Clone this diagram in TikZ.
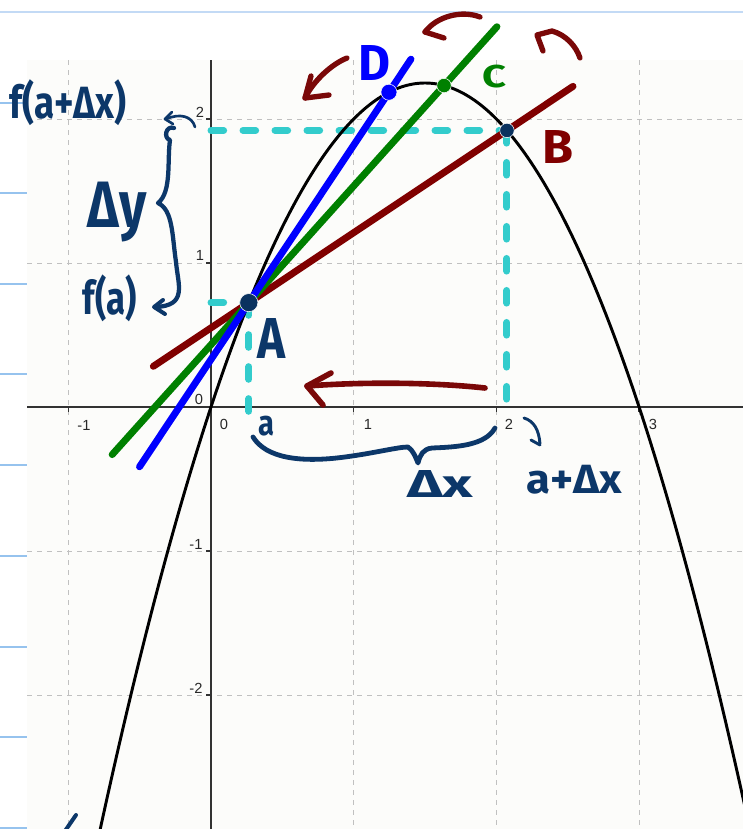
\documentclass[tikz,border=0pt]{standalone}
\usepackage{fontspec}
\usepackage{graphicx}
\setmainfont{Liberation Sans}
\newfontfamily\hwfont{Fira Sans}
\usetikzlibrary{calc}
\definecolor{navy}{RGB}{12,55,105}
\definecolor{dotnavy}{RGB}{10,50,95}
\definecolor{secred}{RGB}{128,0,0}
\definecolor{secgreen}{RGB}{0,128,0}
\definecolor{secblue}{RGB}{0,0,255}
\definecolor{darkred}{RGB}{122,8,8}
\definecolor{cyanc}{RGB}{51,204,204}
\definecolor{gridgray}{RGB}{192,192,192}
\definecolor{axisgray}{RGB}{50,50,50}
\definecolor{labgray}{RGB}{40,40,40}
\definecolor{panel}{RGB}{252,252,250}
\definecolor{topblue}{RGB}{195,218,245}
\definecolor{sideblue}{RGB}{150,195,238}
\newcommand\hwtext[3]{\resizebox*{#1}{#2}{\hwfont\bfseries #3}}
\begin{document}
\begin{tikzpicture}[x=0.75pt,y=-0.75pt,
  gridline/.style={draw=gridgray, line width=0.75pt, dash pattern=on 4pt off 3.5pt},
  axisline/.style={draw=axisgray, line width=1.1pt},
  cyandash/.style={draw=cyanc, line width=5.2pt, line cap=round, dash pattern=on 9.5pt off 14.5pt},
  secant/.style={line width=5.2pt, line cap=round},
  hwline/.style={draw=navy, line width=2.6pt, line cap=round, line join=round},
  redarrow/.style={draw=darkred, line width=4pt, line cap=round, line join=round},
  ticklabel/.style={font=\fontsize{11}{12}\selectfont, text=labgray, inner sep=0pt},
  hw/.style={inner sep=0pt, text=navy}
]
\useasboundingbox (0,0) rectangle (743,829);
\clip (0,0) rectangle (743,829);
\fill[white] (0,0) rectangle (743,829);
\fill[panel] (27,60) rectangle (743,829);
\draw[topblue, line width=1.5pt] (0,12) -- (743,12);
\foreach \yy in {103,193,284,374,465,556,647,737,828}
  \draw[sideblue, line width=0.8pt] (0,\yy) -- (27,\yy);

\begin{scope}[shift={(211,407)}, x={(107.025pt,0pt)}, y={(0pt,108pt)}]
  % grid
  \foreach \gx in {-1,1,2,3} \draw[gridline] (\gx,2.4097) -- (\gx,-3);
  \foreach \gy in {-2,-1,1,2} \draw[gridline] (-1.2894,\gy) -- (3.8,\gy);
  % axes
  \draw[axisline] (-1.2894,0) -- (3.8,0);
  \draw[axisline] (0,2.4097) -- (0,-3);
  \foreach \gx in {-1,1,2,3} \draw[axisline] (\gx,0) -- (\gx,-0.035);
  \foreach \gy in {-2,-1,1,2} \draw[axisline] (0,\gy) -- (-0.035,\gy);
  % points
  \coordinate (A) at (0.265,0.7248);
  \coordinate (B) at (2.074,1.9205);
  \coordinate (C) at (1.633,2.2323);
  \coordinate (D) at (1.247,2.186);
  \coordinate (fa) at (0,0.7248);
  \coordinate (aa) at (0.265,-0.05);
  \coordinate (fb) at (0,1.9205);
  \coordinate (bb) at (2.074,-0.05);
  % cyan dashed guides
  \draw[cyandash] (fa) -- (A);
  \draw[cyandash] (A) -- (aa);
  \draw[cyandash] (fb) -- (B);
  \draw[cyandash] (B) -- (bb);
  % parabola
  \draw[black, line width=2.2pt] plot[domain=-0.79:3.76, samples=120, smooth] (\x,{3*\x-\x*\x});
  % secant lines
  \draw[secant, draw=secred] ($(A)!-0.37!(B)$) -- ($(A)!1.256!(B)$);
  \draw[secant, draw=secgreen] ($(A)!-0.70!(C)$) -- ($(A)!1.271!(C)$);
  \draw[secant, draw=secblue] ($(A)!-0.78!(D)$) -- ($(A)!1.157!(D)$);
  % dots
  \filldraw[fill=dotnavy, draw=white, line width=0.4pt] (A) circle[radius=6.8pt];
  \filldraw[fill=dotnavy, draw=white, line width=0.4pt] (B) circle[radius=5.4pt];
  \filldraw[fill=secgreen, draw=white, line width=0.4pt] (C) circle[radius=5.4pt];
  \filldraw[fill=secblue, draw=white, line width=0.4pt] (D) circle[radius=6pt];
\end{scope}

% tick labels
\node[ticklabel] (xm1) at (84,425) {-1};
\node[ticklabel] (x0) at (224,424) {0};
\node[ticklabel] (x1) at (368,424) {1};
\node[ticklabel] (x2) at (509,424) {2};
\node[ticklabel] (x3) at (653,424) {3};
\node[ticklabel] (y0) at (199,399) {0};
\node[ticklabel] (y1) at (200,255) {1};
\node[ticklabel] (y2) at (200,112) {2};
\node[ticklabel] (ym1) at (196,544) {-1};
\node[ticklabel] (ym2) at (196,688) {-2};

% handwritten navy annotations
\draw[hwline, line width=3.2pt] (174,128) .. controls (166,125) and (163,138) .. (170,140)
  .. controls (167,160) and (172,192) .. (158,203)
  .. controls (173,210) and (172,235) .. (176,262)
  .. controls (178,285) and (188,306) .. (155,307);
\draw[hwline, line width=3pt] (163,300) -- (154,307) -- (165,314);
\draw[hwline, line width=2pt] (195,127) .. controls (192,116) and (180,113) .. (166,119);
\draw[hwline, line width=2pt] (172,112) -- (165,119) -- (173,124);
\draw[hwline, line width=3.6pt] (253,437) .. controls (266,458) and (300,463) .. (345,457)
  .. controls (375,453) and (398,447) .. (408,447)
  .. controls (413,450) and (416,458) .. (418,463)
  .. controls (420,455) and (423,449) .. (432,448)
  .. controls (455,447) and (485,446) .. (495,428);
\draw[hwline, line width=2.2pt] (524,418) .. controls (534,421) and (539,430) .. (540,444);
\draw[hwline, line width=2.2pt] (531,440) -- (540,445);
\draw[hwline, line width=3pt] (65,831) -- (76,815);

\node[hw] (lfab) at (68,103) {\hwtext{87.75pt}{34.5pt}{f(a+Δx)}};
\node[hw] (ldy) at (117.5,212) {\hwtext{44.25pt}{45pt}{Δy}};
\node[hw] (lfa) at (110,298.5) {\hwtext{40.5pt}{35.25pt}{f(a)}};
\node[hw] (lA) at (272,338) {\hwtext{21pt}{30pt}{A}};
\node[hw] (la) at (266,426) {\hwtext{12pt}{15pt}{a}};
\node[hw] (ldx) at (440,483.5) {\hwtext{49.5pt}{20.25pt}{Δx}};
\node[hw] (ladx) at (574.5,479.5) {\hwtext{71.25pt}{21.75pt}{a+Δx}};
\node[hw, text=secred] (lB) at (557.5,146.5) {\hwtext{23.25pt}{24.75pt}{B}};
\node[hw, text=secgreen] (lC) at (494,76.5) {\hwtext{18pt}{17.25pt}{C}};
\node[hw, text=secblue] (lD) at (374,62.5) {\hwtext{24pt}{26.25pt}{D}};

% dark red arrows
\draw[redarrow, line width=4.2pt] (485,388) .. controls (430,382) and (360,382) .. (307,386);
\draw[redarrow, line width=4.2pt] (331,373) -- (307,386) -- (323,405);
\draw[redarrow] (347,58) .. controls (332,64) and (314,80) .. (305,98);
\draw[redarrow] (311,76) -- (305,98) -- (329,95);
\draw[redarrow] (480,17) .. controls (462,10) and (437,16) .. (425,32);
\draw[redarrow] (425,32) -- (444,38);
\draw[redarrow] (543,51) -- (537,35) -- (552,31) .. controls (566,35) and (576,46) .. (580,58);
\end{tikzpicture}
\end{document}
